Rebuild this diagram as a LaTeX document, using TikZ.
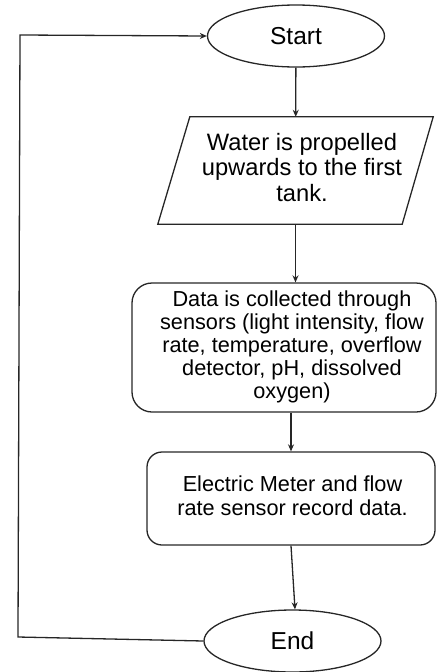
\documentclass[tikz,border=0pt]{standalone}
\usepackage{fontspec}
\setmainfont{Liberation Sans}
\usetikzlibrary{shapes.geometric,arrows.meta}

% centred block of lines, pushed right by #1
\newcommand{\shiftedlines}[2]{\hspace*{#1}\begin{tabular}{@{}c@{}}#2\end{tabular}}

\tikzset{
  flowline/.style={draw=black!85, line width=1.3pt},
  flowarrow/.style={flowline, -{Stealth[length=7pt,width=6pt]}},
  terminal/.style={ellipse, flowline, minimum width=177pt, minimum height=62pt,
    inner sep=0pt, font=\fontsize{24.5}{27}\selectfont},
  iobox/.style={rectangle, minimum width=275pt, minimum height=107pt,
    inner sep=0pt, font=\fontsize{23.7}{25.5}\selectfont},
  process/.style={rectangle, rounded corners=#1, flowline, inner sep=0pt,
    font=\fontsize{21.7}{23}\selectfont},
}

\begin{document}
\begin{tikzpicture}[x=1pt, y=-1pt]
  \useasboundingbox (0,0) rectangle (437,672);

  \node[terminal] (start) at (296,36) {Start};

  \node[iobox] (tank) at (295.5,170.5)
    {\shiftedlines{13pt}{Water is propelled\\upwards to the first\\tank.}};
  % slanted input/output outline around the text
  \draw[flowline] ([xshift=32pt]tank.north west) -- (tank.north east)
    -- ([xshift=-31pt]tank.south east) -- (tank.south west) -- cycle;

  \node[process=20pt, minimum width=304pt, minimum height=129pt] (data) at (284,347.5)
    {\shiftedlines{16pt}{Data is collected through\\sensors (light intensity, flow\\rate, temperature, overflow\\detector, pH, dissolved\\oxygen)}};

  \node[process=15pt, minimum width=288pt, minimum height=93pt,
        font=\fontsize{21.7}{24}\selectfont] (elec) at (291,498.5)
    {\shiftedlines{3pt}{Electric Meter and flow\\rate sensor record data.}};

  \node[terminal] (end) at (292.5,641) {End};

  % main sequence
  \draw[flowarrow] (start) -- (tank);
  \draw[flowarrow] (tank.south) -- (tank.south |- data.north);
  \draw[flowarrow] (elec.north |- data.south) -- (elec.north);
  \draw[flowarrow] (elec.south) -- ([xshift=2.5pt]end.north);

  % return loop from End back to Start
  \coordinate (loopbottom) at (18,637);
  \coordinate (looptop) at (20,35);
  \draw[flowarrow] (end.west) -- (loopbottom) -- (looptop) -- (start.west);
\end{tikzpicture}
\end{document}
